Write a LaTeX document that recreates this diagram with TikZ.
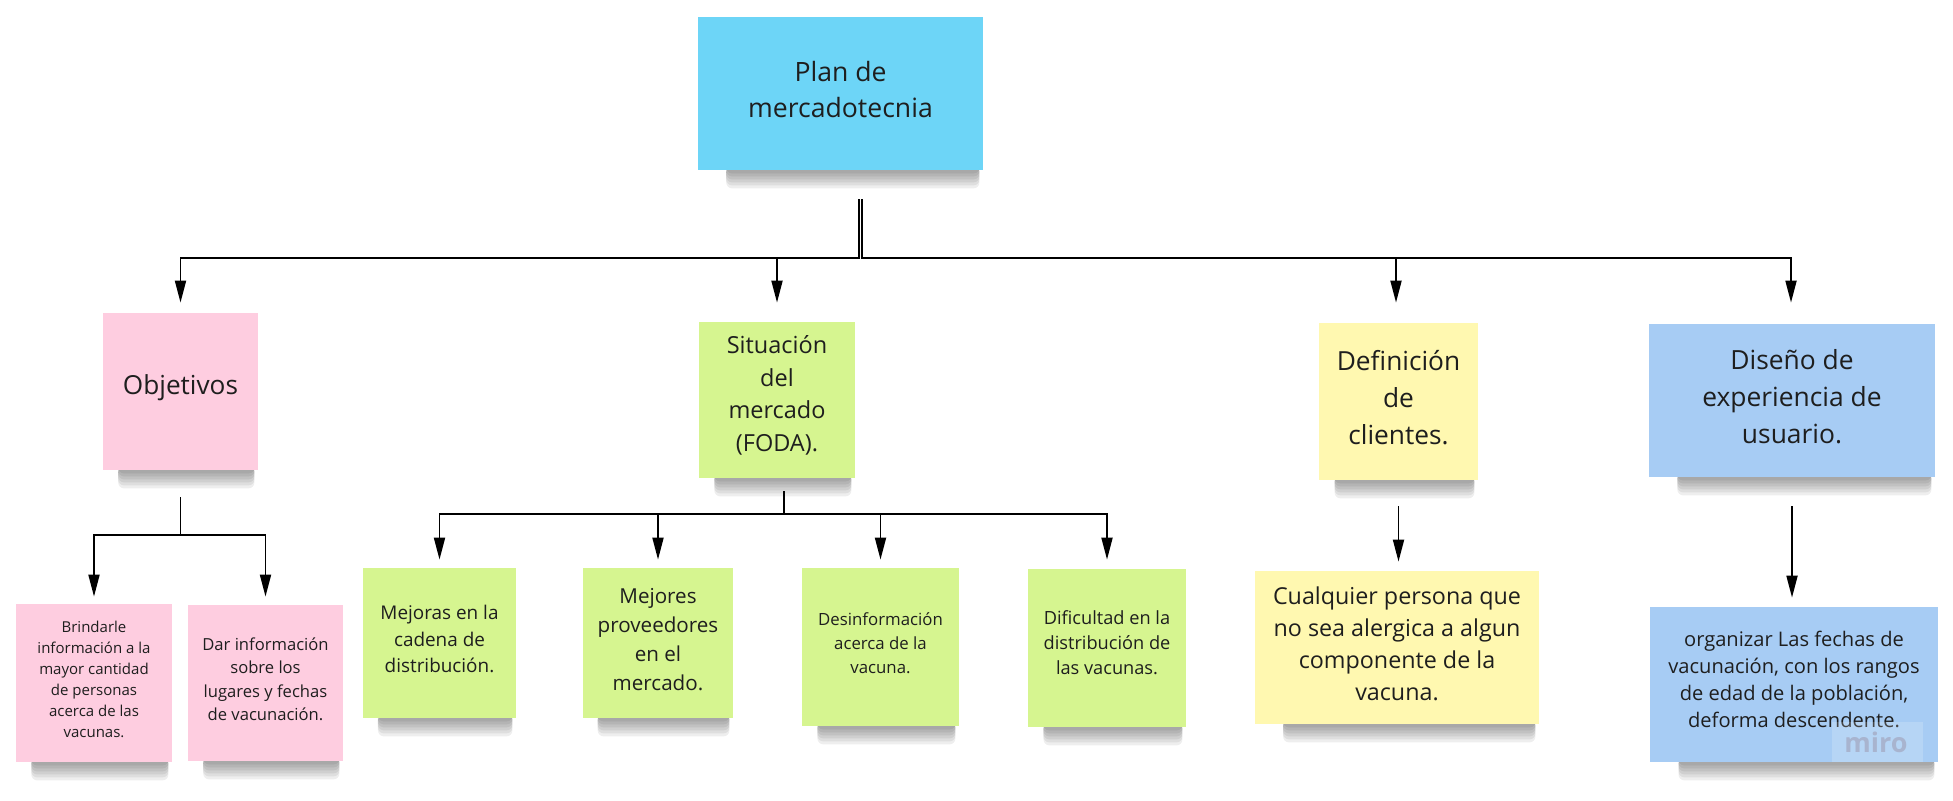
\documentclass[tikz,border=0pt]{standalone}
\usepackage{fontspec}
\setmainfont{Open Sans}
\usetikzlibrary{arrows.meta,calc,backgrounds}
\definecolor{plancol}{HTML}{6DD5F7}
\definecolor{pinkcol}{HTML}{FECDE0}
\definecolor{greencol}{HTML}{D6F590}
\definecolor{yellowcol}{HTML}{FFF8B0}
\definecolor{bluecol}{HTML}{A7CCF4}
\definecolor{txtcol}{HTML}{1E1E1E}
\definecolor{mirotxt}{HTML}{A8B4CF}
\newcommand\stickyshadow[1]{%
  \foreach \k in {3,6,...,18} {%
    \fill[black, opacity=0.065, rounded corners=3pt]
      ($(#1.south west)!0.1!(#1.south east)+(0,-4)$) rectangle ($(#1.south east)+(-4,\k)$);
  }}
\tikzset{
  note/.style={inner sep=0pt, align=center, text=txtcol, anchor=center, text depth=4pt},
  conn/.style={line width=0.95pt, draw=black, -{Triangle[length=11pt,width=5.5pt]}}
}
\begin{document}
\begin{tikzpicture}[x=0.5pt,y=-0.5pt]
\path[use as bounding box] (0,0) rectangle (1953,800);
\begin{scope}[on background layer]
\fill[white] (0,0) rectangle (1953,800);
\end{scope}

% top level
\node[note, fill=plancol, minimum width=142.5pt, minimum height=76.5pt,
  font=\fontsize{13.3pt}{18pt}\selectfont] (plan) at (840.5,93.5) {Plan de\\mercadotecnia};

\node[note, fill=pinkcol, minimum width=77.5pt, minimum height=78.5pt, text depth=7pt,
  font=\fontsize{13.1pt}{18pt}\selectfont] (obj) at (180.5,391.5) {Objetivos};
\node[note, fill=greencol, minimum width=78pt, minimum height=78pt, text depth=6.5pt,
  font=\fontsize{11.75pt}{16.25pt}\selectfont] (sit) at (777,400) {Situación\\del\\mercado\\(FODA).};
\node[note, fill=yellowcol, minimum width=79.5pt, minimum height=78.5pt,
  font=\fontsize{13.15pt}{18.5pt}\selectfont] (def) at (1398.5,401.5) {Definición\\de\\clientes.};
\node[note, fill=bluecol, minimum width=143pt, minimum height=76.5pt,
  font=\fontsize{13.2pt}{18.5pt}\selectfont] (dis) at (1792,400.5) {Diseño de\\experiencia de\\usuario.};

% objetivos children
\node[note, fill=pinkcol, minimum width=78pt, minimum height=79pt,
  font=\fontsize{7.5pt}{10.5pt}\selectfont] (bri) at (94,683) {Brindarle\\información a la\\mayor cantidad\\de personas\\acerca de las\\vacunas.};
\node[note, fill=pinkcol, minimum width=77.5pt, minimum height=78pt,
  font=\fontsize{8.3pt}{11.65pt}\selectfont] (dar) at (265.5,683) {Dar información\\sobre los\\lugares y fechas\\de vacunación.};

% situacion children
\node[note, fill=greencol, minimum width=76.5pt, minimum height=75pt,
  font=\fontsize{9.45pt}{13.25pt}\selectfont] (mej1) at (439.5,643) {Mejoras en la\\cadena de\\distribución.};
\node[note, fill=greencol, minimum width=75pt, minimum height=75pt,
  font=\fontsize{10.3pt}{14.5pt}\selectfont] (mej2) at (658,643) {Mejores\\proveedores\\en el\\mercado.};
\node[note, fill=greencol, minimum width=78.5pt, minimum height=79pt,
  font=\fontsize{8.4pt}{12pt}\selectfont] (des) at (880.5,647) {Desinformación\\acerca de la\\vacuna.};
\node[note, fill=greencol, minimum width=79pt, minimum height=79pt, text depth=5pt,
  font=\fontsize{9.1pt}{12.5pt}\selectfont] (dif) at (1107,648) {Dificultad en la\\distribución de\\las vacunas.};

% definicion / diseno children
\node[note, fill=yellowcol, minimum width=142pt, minimum height=76.5pt,
  font=\fontsize{11.65pt}{16pt}\selectfont] (cua) at (1397,647.5) {Cualquier persona que\\no sea alergica a algun\\componente de la\\vacuna.};
\node[note, fill=bluecol, minimum width=144pt, minimum height=77.5pt, text depth=5.5pt,
  font=\fontsize{10.05pt}{13.5pt}\selectfont] (org) at (1794,684.5) {organizar Las fechas de\\vacunación, con los rangos\\de edad de la población,\\deforma descendente.};

% miro watermark
\node[fill=white, fill opacity=0.18, minimum width=45.5pt, minimum height=20pt, inner sep=0pt] (mirobox) at (1877.5,741.5) {};
\node[text=mirotxt, inner sep=0pt, font=\bfseries\fontsize{13.5pt}{14pt}\selectfont] (miro) at (1876,742) {miro};

% shadows
\begin{scope}[on background layer]
\foreach \n in {plan,obj,sit,def,dis,bri,dar,mej1,mej2,des,dif,cua,org} {\stickyshadow{\n}}
\end{scope}

% connectors level 1
\coordinate (jL) at ($(plan.south)+(18.5,88)$);
\coordinate (jR) at ($(plan.south)+(21.5,88)$);
\draw[conn] ($(plan.south)+(18.5,29)$) -- (jL) -| ($(obj.north)+(0,-10)$);
\draw[conn] ($(plan.south)+(18.5,29)$) -- (jL) -| ($(sit.north)+(0,-19)$);
\draw[conn] ($(plan.south)+(21.5,29)$) -- (jR) -| ($(def.north)+(-2.5,-20)$);
\draw[conn] ($(plan.south)+(21.5,29)$) -- (jR) -| ($(dis.north)+(-1,-21)$);

% objetivos
\coordinate (jO) at ($(obj.south)+(0,65)$);
\draw[conn] ($(obj.south)+(0,27)$) -- (jO) -| ($(bri.north)+(0,-7)$);
\draw[conn] ($(obj.south)+(0,27)$) -- (jO) -| ($(dar.north)+(0,-8)$);

% situacion
\coordinate (jS) at ($(sit.south)+(7,36)$);
\draw[conn] ($(sit.south)+(7,13)$) -- (jS) -| ($(mej1.north)+(0,-8)$);
\draw[conn] ($(sit.south)+(7,13)$) -- (jS) -| ($(mej2.north)+(0,-8)$);
\draw[conn] ($(sit.south)+(7,13)$) -- (jS) -| ($(des.north)+(0,-8)$);
\draw[conn] ($(sit.south)+(7,13)$) -- (jS) -| ($(dif.north)+(0,-9)$);

% definicion, diseno
\draw[conn] ($(def.south)+(0,26)$) -- ($(def.south |- cua.north)+(0,-9)$);
\draw[conn] ($(dis.south)+(0,29)$) -- ($(dis.south |- org.north)+(0,-9)$);
\end{tikzpicture}
\end{document}
